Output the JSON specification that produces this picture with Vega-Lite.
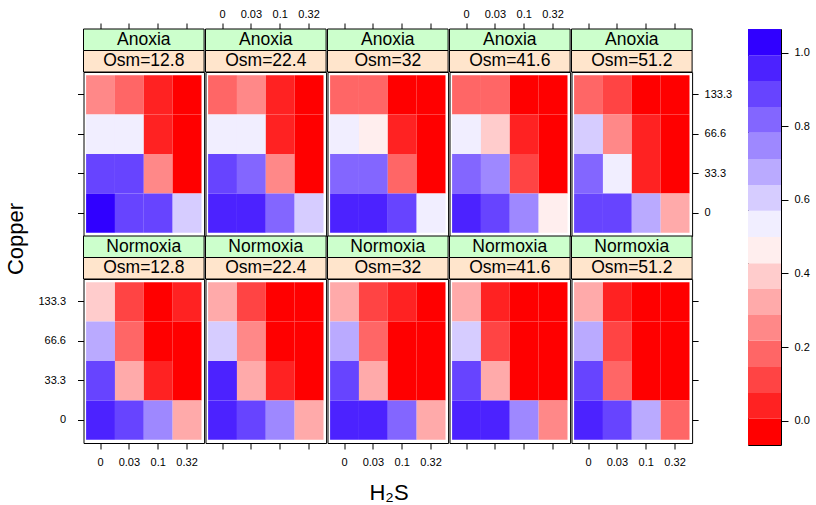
{
  "$schema": "https://vega.github.io/schema/vega-lite/v6.json",
  "background": "white",
  "padding": {"left": 5, "top": 8, "right": 5, "bottom": 0},
  "config": {
    "font": "Liberation Sans",
    "view": {"stroke": null},
    "axis": {"domain": false, "grid": false, "tickColor": "black", "tickWidth": 1, "tickSize": 6, "labelColor": "black", "labelFont": "Liberation Sans", "labelFontSize": 11, "labelAngle": 0, "labelOverlap": false},
    "axisLeft": {"labelPadding": 12},
    "axisRight": {"labelPadding": 6},
    "axisTop": {"labelPadding": 4},
    "axisBottom": {"labelPadding": 7},
    "text": {"font": "Liberation Sans", "color": "black"}
  },
  "datasets": {
    "cells": [
      {"oxygen":"Anoxia","osm":"12.8","copper":"133.3","h2s":"0","value":0.25},
      {"oxygen":"Anoxia","osm":"12.8","copper":"133.3","h2s":"0.03","value":0.18},
      {"oxygen":"Anoxia","osm":"12.8","copper":"133.3","h2s":"0.1","value":0.04},
      {"oxygen":"Anoxia","osm":"12.8","copper":"133.3","h2s":"0.32","value":0},
      {"oxygen":"Anoxia","osm":"12.8","copper":"66.6","h2s":"0","value":0.54},
      {"oxygen":"Anoxia","osm":"12.8","copper":"66.6","h2s":"0.03","value":0.54},
      {"oxygen":"Anoxia","osm":"12.8","copper":"66.6","h2s":"0.1","value":0.04},
      {"oxygen":"Anoxia","osm":"12.8","copper":"66.6","h2s":"0.32","value":0},
      {"oxygen":"Anoxia","osm":"12.8","copper":"33.3","h2s":"0","value":0.89},
      {"oxygen":"Anoxia","osm":"12.8","copper":"33.3","h2s":"0.03","value":0.89},
      {"oxygen":"Anoxia","osm":"12.8","copper":"33.3","h2s":"0.1","value":0.25},
      {"oxygen":"Anoxia","osm":"12.8","copper":"33.3","h2s":"0.32","value":0},
      {"oxygen":"Anoxia","osm":"12.8","copper":"0","h2s":"0","value":1.0},
      {"oxygen":"Anoxia","osm":"12.8","copper":"0","h2s":"0.03","value":0.89},
      {"oxygen":"Anoxia","osm":"12.8","copper":"0","h2s":"0.1","value":0.89},
      {"oxygen":"Anoxia","osm":"12.8","copper":"0","h2s":"0.32","value":0.61},
      {"oxygen":"Anoxia","osm":"22.4","copper":"133.3","h2s":"0","value":0.18},
      {"oxygen":"Anoxia","osm":"22.4","copper":"133.3","h2s":"0.03","value":0.25},
      {"oxygen":"Anoxia","osm":"22.4","copper":"133.3","h2s":"0.1","value":0.04},
      {"oxygen":"Anoxia","osm":"22.4","copper":"133.3","h2s":"0.32","value":0},
      {"oxygen":"Anoxia","osm":"22.4","copper":"66.6","h2s":"0","value":0.54},
      {"oxygen":"Anoxia","osm":"22.4","copper":"66.6","h2s":"0.03","value":0.54},
      {"oxygen":"Anoxia","osm":"22.4","copper":"66.6","h2s":"0.1","value":0.04},
      {"oxygen":"Anoxia","osm":"22.4","copper":"66.6","h2s":"0.32","value":0},
      {"oxygen":"Anoxia","osm":"22.4","copper":"33.3","h2s":"0","value":0.89},
      {"oxygen":"Anoxia","osm":"22.4","copper":"33.3","h2s":"0.03","value":0.82},
      {"oxygen":"Anoxia","osm":"22.4","copper":"33.3","h2s":"0.1","value":0.25},
      {"oxygen":"Anoxia","osm":"22.4","copper":"33.3","h2s":"0.32","value":0},
      {"oxygen":"Anoxia","osm":"22.4","copper":"0","h2s":"0","value":0.96},
      {"oxygen":"Anoxia","osm":"22.4","copper":"0","h2s":"0.03","value":0.96},
      {"oxygen":"Anoxia","osm":"22.4","copper":"0","h2s":"0.1","value":0.82},
      {"oxygen":"Anoxia","osm":"22.4","copper":"0","h2s":"0.32","value":0.61},
      {"oxygen":"Anoxia","osm":"32","copper":"133.3","h2s":"0","value":0.18},
      {"oxygen":"Anoxia","osm":"32","copper":"133.3","h2s":"0.03","value":0.18},
      {"oxygen":"Anoxia","osm":"32","copper":"133.3","h2s":"0.1","value":0},
      {"oxygen":"Anoxia","osm":"32","copper":"133.3","h2s":"0.32","value":0},
      {"oxygen":"Anoxia","osm":"32","copper":"66.6","h2s":"0","value":0.54},
      {"oxygen":"Anoxia","osm":"32","copper":"66.6","h2s":"0.03","value":0.46},
      {"oxygen":"Anoxia","osm":"32","copper":"66.6","h2s":"0.1","value":0.04},
      {"oxygen":"Anoxia","osm":"32","copper":"66.6","h2s":"0.32","value":0},
      {"oxygen":"Anoxia","osm":"32","copper":"33.3","h2s":"0","value":0.82},
      {"oxygen":"Anoxia","osm":"32","copper":"33.3","h2s":"0.03","value":0.82},
      {"oxygen":"Anoxia","osm":"32","copper":"33.3","h2s":"0.1","value":0.18},
      {"oxygen":"Anoxia","osm":"32","copper":"33.3","h2s":"0.32","value":0},
      {"oxygen":"Anoxia","osm":"32","copper":"0","h2s":"0","value":0.96},
      {"oxygen":"Anoxia","osm":"32","copper":"0","h2s":"0.03","value":0.96},
      {"oxygen":"Anoxia","osm":"32","copper":"0","h2s":"0.1","value":0.89},
      {"oxygen":"Anoxia","osm":"32","copper":"0","h2s":"0.32","value":0.54},
      {"oxygen":"Anoxia","osm":"41.6","copper":"133.3","h2s":"0","value":0.18},
      {"oxygen":"Anoxia","osm":"41.6","copper":"133.3","h2s":"0.03","value":0.18},
      {"oxygen":"Anoxia","osm":"41.6","copper":"133.3","h2s":"0.1","value":0},
      {"oxygen":"Anoxia","osm":"41.6","copper":"133.3","h2s":"0.32","value":0},
      {"oxygen":"Anoxia","osm":"41.6","copper":"66.6","h2s":"0","value":0.54},
      {"oxygen":"Anoxia","osm":"41.6","copper":"66.6","h2s":"0.03","value":0.39},
      {"oxygen":"Anoxia","osm":"41.6","copper":"66.6","h2s":"0.1","value":0.04},
      {"oxygen":"Anoxia","osm":"41.6","copper":"66.6","h2s":"0.32","value":0},
      {"oxygen":"Anoxia","osm":"41.6","copper":"33.3","h2s":"0","value":0.82},
      {"oxygen":"Anoxia","osm":"41.6","copper":"33.3","h2s":"0.03","value":0.75},
      {"oxygen":"Anoxia","osm":"41.6","copper":"33.3","h2s":"0.1","value":0.11},
      {"oxygen":"Anoxia","osm":"41.6","copper":"33.3","h2s":"0.32","value":0},
      {"oxygen":"Anoxia","osm":"41.6","copper":"0","h2s":"0","value":0.96},
      {"oxygen":"Anoxia","osm":"41.6","copper":"0","h2s":"0.03","value":0.89},
      {"oxygen":"Anoxia","osm":"41.6","copper":"0","h2s":"0.1","value":0.75},
      {"oxygen":"Anoxia","osm":"41.6","copper":"0","h2s":"0.32","value":0.46},
      {"oxygen":"Anoxia","osm":"51.2","copper":"133.3","h2s":"0","value":0.18},
      {"oxygen":"Anoxia","osm":"51.2","copper":"133.3","h2s":"0.03","value":0.11},
      {"oxygen":"Anoxia","osm":"51.2","copper":"133.3","h2s":"0.1","value":0},
      {"oxygen":"Anoxia","osm":"51.2","copper":"133.3","h2s":"0.32","value":0},
      {"oxygen":"Anoxia","osm":"51.2","copper":"66.6","h2s":"0","value":0.61},
      {"oxygen":"Anoxia","osm":"51.2","copper":"66.6","h2s":"0.03","value":0.25},
      {"oxygen":"Anoxia","osm":"51.2","copper":"66.6","h2s":"0.1","value":0.04},
      {"oxygen":"Anoxia","osm":"51.2","copper":"66.6","h2s":"0.32","value":0},
      {"oxygen":"Anoxia","osm":"51.2","copper":"33.3","h2s":"0","value":0.82},
      {"oxygen":"Anoxia","osm":"51.2","copper":"33.3","h2s":"0.03","value":0.54},
      {"oxygen":"Anoxia","osm":"51.2","copper":"33.3","h2s":"0.1","value":0.04},
      {"oxygen":"Anoxia","osm":"51.2","copper":"33.3","h2s":"0.32","value":0},
      {"oxygen":"Anoxia","osm":"51.2","copper":"0","h2s":"0","value":0.89},
      {"oxygen":"Anoxia","osm":"51.2","copper":"0","h2s":"0.03","value":0.89},
      {"oxygen":"Anoxia","osm":"51.2","copper":"0","h2s":"0.1","value":0.68},
      {"oxygen":"Anoxia","osm":"51.2","copper":"0","h2s":"0.32","value":0.32},
      {"oxygen":"Normoxia","osm":"12.8","copper":"133.3","h2s":"0","value":0.39},
      {"oxygen":"Normoxia","osm":"12.8","copper":"133.3","h2s":"0.03","value":0.11},
      {"oxygen":"Normoxia","osm":"12.8","copper":"133.3","h2s":"0.1","value":0},
      {"oxygen":"Normoxia","osm":"12.8","copper":"133.3","h2s":"0.32","value":0.04},
      {"oxygen":"Normoxia","osm":"12.8","copper":"66.6","h2s":"0","value":0.68},
      {"oxygen":"Normoxia","osm":"12.8","copper":"66.6","h2s":"0.03","value":0.18},
      {"oxygen":"Normoxia","osm":"12.8","copper":"66.6","h2s":"0.1","value":0},
      {"oxygen":"Normoxia","osm":"12.8","copper":"66.6","h2s":"0.32","value":0},
      {"oxygen":"Normoxia","osm":"12.8","copper":"33.3","h2s":"0","value":0.89},
      {"oxygen":"Normoxia","osm":"12.8","copper":"33.3","h2s":"0.03","value":0.32},
      {"oxygen":"Normoxia","osm":"12.8","copper":"33.3","h2s":"0.1","value":0.04},
      {"oxygen":"Normoxia","osm":"12.8","copper":"33.3","h2s":"0.32","value":0},
      {"oxygen":"Normoxia","osm":"12.8","copper":"0","h2s":"0","value":0.96},
      {"oxygen":"Normoxia","osm":"12.8","copper":"0","h2s":"0.03","value":0.89},
      {"oxygen":"Normoxia","osm":"12.8","copper":"0","h2s":"0.1","value":0.75},
      {"oxygen":"Normoxia","osm":"12.8","copper":"0","h2s":"0.32","value":0.32},
      {"oxygen":"Normoxia","osm":"22.4","copper":"133.3","h2s":"0","value":0.32},
      {"oxygen":"Normoxia","osm":"22.4","copper":"133.3","h2s":"0.03","value":0.11},
      {"oxygen":"Normoxia","osm":"22.4","copper":"133.3","h2s":"0.1","value":0},
      {"oxygen":"Normoxia","osm":"22.4","copper":"133.3","h2s":"0.32","value":0},
      {"oxygen":"Normoxia","osm":"22.4","copper":"66.6","h2s":"0","value":0.61},
      {"oxygen":"Normoxia","osm":"22.4","copper":"66.6","h2s":"0.03","value":0.25},
      {"oxygen":"Normoxia","osm":"22.4","copper":"66.6","h2s":"0.1","value":0},
      {"oxygen":"Normoxia","osm":"22.4","copper":"66.6","h2s":"0.32","value":0},
      {"oxygen":"Normoxia","osm":"22.4","copper":"33.3","h2s":"0","value":0.96},
      {"oxygen":"Normoxia","osm":"22.4","copper":"33.3","h2s":"0.03","value":0.32},
      {"oxygen":"Normoxia","osm":"22.4","copper":"33.3","h2s":"0.1","value":0.04},
      {"oxygen":"Normoxia","osm":"22.4","copper":"33.3","h2s":"0.32","value":0},
      {"oxygen":"Normoxia","osm":"22.4","copper":"0","h2s":"0","value":0.96},
      {"oxygen":"Normoxia","osm":"22.4","copper":"0","h2s":"0.03","value":0.89},
      {"oxygen":"Normoxia","osm":"22.4","copper":"0","h2s":"0.1","value":0.75},
      {"oxygen":"Normoxia","osm":"22.4","copper":"0","h2s":"0.32","value":0.32},
      {"oxygen":"Normoxia","osm":"32","copper":"133.3","h2s":"0","value":0.32},
      {"oxygen":"Normoxia","osm":"32","copper":"133.3","h2s":"0.03","value":0.11},
      {"oxygen":"Normoxia","osm":"32","copper":"133.3","h2s":"0.1","value":0.04},
      {"oxygen":"Normoxia","osm":"32","copper":"133.3","h2s":"0.32","value":0},
      {"oxygen":"Normoxia","osm":"32","copper":"66.6","h2s":"0","value":0.68},
      {"oxygen":"Normoxia","osm":"32","copper":"66.6","h2s":"0.03","value":0.18},
      {"oxygen":"Normoxia","osm":"32","copper":"66.6","h2s":"0.1","value":0},
      {"oxygen":"Normoxia","osm":"32","copper":"66.6","h2s":"0.32","value":0},
      {"oxygen":"Normoxia","osm":"32","copper":"33.3","h2s":"0","value":0.89},
      {"oxygen":"Normoxia","osm":"32","copper":"33.3","h2s":"0.03","value":0.32},
      {"oxygen":"Normoxia","osm":"32","copper":"33.3","h2s":"0.1","value":0},
      {"oxygen":"Normoxia","osm":"32","copper":"33.3","h2s":"0.32","value":0},
      {"oxygen":"Normoxia","osm":"32","copper":"0","h2s":"0","value":0.96},
      {"oxygen":"Normoxia","osm":"32","copper":"0","h2s":"0.03","value":0.96},
      {"oxygen":"Normoxia","osm":"32","copper":"0","h2s":"0.1","value":0.82},
      {"oxygen":"Normoxia","osm":"32","copper":"0","h2s":"0.32","value":0.32},
      {"oxygen":"Normoxia","osm":"41.6","copper":"133.3","h2s":"0","value":0.32},
      {"oxygen":"Normoxia","osm":"41.6","copper":"133.3","h2s":"0.03","value":0.04},
      {"oxygen":"Normoxia","osm":"41.6","copper":"133.3","h2s":"0.1","value":0},
      {"oxygen":"Normoxia","osm":"41.6","copper":"133.3","h2s":"0.32","value":0},
      {"oxygen":"Normoxia","osm":"41.6","copper":"66.6","h2s":"0","value":0.61},
      {"oxygen":"Normoxia","osm":"41.6","copper":"66.6","h2s":"0.03","value":0.11},
      {"oxygen":"Normoxia","osm":"41.6","copper":"66.6","h2s":"0.1","value":0},
      {"oxygen":"Normoxia","osm":"41.6","copper":"66.6","h2s":"0.32","value":0},
      {"oxygen":"Normoxia","osm":"41.6","copper":"33.3","h2s":"0","value":0.89},
      {"oxygen":"Normoxia","osm":"41.6","copper":"33.3","h2s":"0.03","value":0.32},
      {"oxygen":"Normoxia","osm":"41.6","copper":"33.3","h2s":"0.1","value":0},
      {"oxygen":"Normoxia","osm":"41.6","copper":"33.3","h2s":"0.32","value":0},
      {"oxygen":"Normoxia","osm":"41.6","copper":"0","h2s":"0","value":0.96},
      {"oxygen":"Normoxia","osm":"41.6","copper":"0","h2s":"0.03","value":0.96},
      {"oxygen":"Normoxia","osm":"41.6","copper":"0","h2s":"0.1","value":0.75},
      {"oxygen":"Normoxia","osm":"41.6","copper":"0","h2s":"0.32","value":0.25},
      {"oxygen":"Normoxia","osm":"51.2","copper":"133.3","h2s":"0","value":0.32},
      {"oxygen":"Normoxia","osm":"51.2","copper":"133.3","h2s":"0.03","value":0.04},
      {"oxygen":"Normoxia","osm":"51.2","copper":"133.3","h2s":"0.1","value":0},
      {"oxygen":"Normoxia","osm":"51.2","copper":"133.3","h2s":"0.32","value":0},
      {"oxygen":"Normoxia","osm":"51.2","copper":"66.6","h2s":"0","value":0.68},
      {"oxygen":"Normoxia","osm":"51.2","copper":"66.6","h2s":"0.03","value":0.11},
      {"oxygen":"Normoxia","osm":"51.2","copper":"66.6","h2s":"0.1","value":0},
      {"oxygen":"Normoxia","osm":"51.2","copper":"66.6","h2s":"0.32","value":0},
      {"oxygen":"Normoxia","osm":"51.2","copper":"33.3","h2s":"0","value":0.89},
      {"oxygen":"Normoxia","osm":"51.2","copper":"33.3","h2s":"0.03","value":0.18},
      {"oxygen":"Normoxia","osm":"51.2","copper":"33.3","h2s":"0.1","value":0},
      {"oxygen":"Normoxia","osm":"51.2","copper":"33.3","h2s":"0.32","value":0},
      {"oxygen":"Normoxia","osm":"51.2","copper":"0","h2s":"0","value":0.96},
      {"oxygen":"Normoxia","osm":"51.2","copper":"0","h2s":"0.03","value":0.89},
      {"oxygen":"Normoxia","osm":"51.2","copper":"0","h2s":"0.1","value":0.68},
      {"oxygen":"Normoxia","osm":"51.2","copper":"0","h2s":"0.32","value":0.18}
    ],
    "bands": [
      {"lo":-0.066,"hi":0.005},{"lo":0.005,"hi":0.075},{"lo":0.075,"hi":0.146},{"lo":0.146,"hi":0.217},
      {"lo":0.217,"hi":0.287},{"lo":0.287,"hi":0.358},{"lo":0.358,"hi":0.428},{"lo":0.428,"hi":0.499},
      {"lo":0.499,"hi":0.57},{"lo":0.57,"hi":0.64},{"lo":0.64,"hi":0.711},{"lo":0.711,"hi":0.782},
      {"lo":0.782,"hi":0.852},{"lo":0.852,"hi":0.923},{"lo":0.923,"hi":0.993},{"lo":0.993,"hi":1.064}
    ],
    "h2slevels": [{"h2s":"0"},{"h2s":"0.03"},{"h2s":"0.1"},{"h2s":"0.32"}]
  },
  "spacing": 10,
  "vconcat": [
    {
      "spacing": 9.5,
      "hconcat": [
        {
          "width": 22, "height": 420,
          "data": {"values": [{"t": "Copper"}]},
          "mark": {"type": "text", "angle": 270, "fontSize": 22},
          "encoding": {"text": {"field": "t"}}
        },
        {
          "spacing": 14.5,
          "hconcat": [
            {
              "bounds": "flush",
              "columns": 5,
              "spacing": {"row": 0, "column": 1},
              "concat": [
                {"width": 120.6, "height": 43, "layer": [
                  {"data": {"values": [{"strip": "ox", "label": "Anoxia"}, {"strip": "osm", "label": "Osm=12.8"}]}, "mark": {"type": "rect", "stroke": "black", "strokeWidth": 1}, "encoding": {"y": {"field": "strip", "type": "nominal", "scale": {"domain": ["ox", "osm"], "paddingInner": 0, "paddingOuter": 0}, "axis": null}, "fill": {"field": "strip", "type": "nominal", "scale": {"domain": ["ox", "osm"], "range": ["#CCFFCC", "#FFE5CC"]}, "legend": null}}},
                  {"data": {"values": [{"strip": "ox", "label": "Anoxia"}, {"strip": "osm", "label": "Osm=12.8"}]}, "mark": {"type": "text", "fontSize": 17.5}, "encoding": {"y": {"field": "strip", "type": "nominal", "axis": null}, "text": {"field": "label"}}},
                  {"data": {"name": "h2slevels"}, "mark": {"type": "tick", "opacity": 0}, "encoding": {"x": {"field": "h2s", "type": "ordinal", "sort": ["0", "0.03", "0.1", "0.32"], "scale": {"paddingInner": 0, "paddingOuter": 0.09}, "axis": {"orient": "top", "labels": false, "title": null}}}}
                ]},
                {"width": 120.6, "height": 43, "layer": [
                  {"data": {"values": [{"strip": "ox", "label": "Anoxia"}, {"strip": "osm", "label": "Osm=22.4"}]}, "mark": {"type": "rect", "stroke": "black", "strokeWidth": 1}, "encoding": {"y": {"field": "strip", "type": "nominal", "scale": {"domain": ["ox", "osm"], "paddingInner": 0, "paddingOuter": 0}, "axis": null}, "fill": {"field": "strip", "type": "nominal", "scale": {"domain": ["ox", "osm"], "range": ["#CCFFCC", "#FFE5CC"]}, "legend": null}}},
                  {"data": {"values": [{"strip": "ox", "label": "Anoxia"}, {"strip": "osm", "label": "Osm=22.4"}]}, "mark": {"type": "text", "fontSize": 17.5}, "encoding": {"y": {"field": "strip", "type": "nominal", "axis": null}, "text": {"field": "label"}}},
                  {"data": {"name": "h2slevels"}, "mark": {"type": "tick", "opacity": 0}, "encoding": {"x": {"field": "h2s", "type": "ordinal", "sort": ["0", "0.03", "0.1", "0.32"], "scale": {"paddingInner": 0, "paddingOuter": 0.09}, "axis": {"orient": "top", "labels": true, "title": null}}}}
                ]},
                {"width": 120.6, "height": 43, "layer": [
                  {"data": {"values": [{"strip": "ox", "label": "Anoxia"}, {"strip": "osm", "label": "Osm=32"}]}, "mark": {"type": "rect", "stroke": "black", "strokeWidth": 1}, "encoding": {"y": {"field": "strip", "type": "nominal", "scale": {"domain": ["ox", "osm"], "paddingInner": 0, "paddingOuter": 0}, "axis": null}, "fill": {"field": "strip", "type": "nominal", "scale": {"domain": ["ox", "osm"], "range": ["#CCFFCC", "#FFE5CC"]}, "legend": null}}},
                  {"data": {"values": [{"strip": "ox", "label": "Anoxia"}, {"strip": "osm", "label": "Osm=32"}]}, "mark": {"type": "text", "fontSize": 17.5}, "encoding": {"y": {"field": "strip", "type": "nominal", "axis": null}, "text": {"field": "label"}}},
                  {"data": {"name": "h2slevels"}, "mark": {"type": "tick", "opacity": 0}, "encoding": {"x": {"field": "h2s", "type": "ordinal", "sort": ["0", "0.03", "0.1", "0.32"], "scale": {"paddingInner": 0, "paddingOuter": 0.09}, "axis": {"orient": "top", "labels": false, "title": null}}}}
                ]},
                {"width": 120.6, "height": 43, "layer": [
                  {"data": {"values": [{"strip": "ox", "label": "Anoxia"}, {"strip": "osm", "label": "Osm=41.6"}]}, "mark": {"type": "rect", "stroke": "black", "strokeWidth": 1}, "encoding": {"y": {"field": "strip", "type": "nominal", "scale": {"domain": ["ox", "osm"], "paddingInner": 0, "paddingOuter": 0}, "axis": null}, "fill": {"field": "strip", "type": "nominal", "scale": {"domain": ["ox", "osm"], "range": ["#CCFFCC", "#FFE5CC"]}, "legend": null}}},
                  {"data": {"values": [{"strip": "ox", "label": "Anoxia"}, {"strip": "osm", "label": "Osm=41.6"}]}, "mark": {"type": "text", "fontSize": 17.5}, "encoding": {"y": {"field": "strip", "type": "nominal", "axis": null}, "text": {"field": "label"}}},
                  {"data": {"name": "h2slevels"}, "mark": {"type": "tick", "opacity": 0}, "encoding": {"x": {"field": "h2s", "type": "ordinal", "sort": ["0", "0.03", "0.1", "0.32"], "scale": {"paddingInner": 0, "paddingOuter": 0.09}, "axis": {"orient": "top", "labels": true, "title": null}}}}
                ]},
                {"width": 120.6, "height": 43, "layer": [
                  {"data": {"values": [{"strip": "ox", "label": "Anoxia"}, {"strip": "osm", "label": "Osm=51.2"}]}, "mark": {"type": "rect", "stroke": "black", "strokeWidth": 1}, "encoding": {"y": {"field": "strip", "type": "nominal", "scale": {"domain": ["ox", "osm"], "paddingInner": 0, "paddingOuter": 0}, "axis": null}, "fill": {"field": "strip", "type": "nominal", "scale": {"domain": ["ox", "osm"], "range": ["#CCFFCC", "#FFE5CC"]}, "legend": null}}},
                  {"data": {"values": [{"strip": "ox", "label": "Anoxia"}, {"strip": "osm", "label": "Osm=51.2"}]}, "mark": {"type": "text", "fontSize": 17.5}, "encoding": {"y": {"field": "strip", "type": "nominal", "axis": null}, "text": {"field": "label"}}},
                  {"data": {"name": "h2slevels"}, "mark": {"type": "tick", "opacity": 0}, "encoding": {"x": {"field": "h2s", "type": "ordinal", "sort": ["0", "0.03", "0.1", "0.32"], "scale": {"paddingInner": 0, "paddingOuter": 0.09}, "axis": {"orient": "top", "labels": false, "title": null}}}}
                ]},

                {"width": 120.6, "height": 164, "view": {"stroke": "black", "strokeWidth": 1},
                 "data": {"name": "cells"}, "transform": [{"filter": "datum.oxygen === 'Anoxia' && datum.osm === '12.8'"}],
                 "mark": "rect",
                 "encoding": {
                   "x": {"field": "h2s", "type": "ordinal", "sort": ["0", "0.03", "0.1", "0.32"], "scale": {"paddingInner": 0, "paddingOuter": 0.09}, "axis": null},
                   "y": {"field": "copper", "type": "ordinal", "sort": ["133.3", "66.6", "33.3", "0"], "scale": {"paddingInner": 0, "paddingOuter": 0.08}, "axis": {"orient": "left", "labels": false, "title": null}},
                   "color": {"field": "value", "type": "quantitative", "scale": {"type": "threshold", "domain": [0.005, 0.075, 0.146, 0.217, 0.287, 0.358, 0.428, 0.499, 0.57, 0.64, 0.711, 0.782, 0.852, 0.923, 0.993], "range": ["#FF0000", "#FF2222", "#FF4444", "#FF6666", "#FF8888", "#FFAAAA", "#FFCCCC", "#FFEEEE", "#F1EEFF", "#D6CCFF", "#BAAAFF", "#9E88FF", "#8366FF", "#6744FF", "#4C22FF", "#3000FF"]}, "legend": null}
                 }},
                {"width": 120.6, "height": 164, "view": {"stroke": "black", "strokeWidth": 1},
                 "data": {"name": "cells"}, "transform": [{"filter": "datum.oxygen === 'Anoxia' && datum.osm === '22.4'"}],
                 "mark": "rect",
                 "encoding": {
                   "x": {"field": "h2s", "type": "ordinal", "sort": ["0", "0.03", "0.1", "0.32"], "scale": {"paddingInner": 0, "paddingOuter": 0.09}, "axis": null},
                   "y": {"field": "copper", "type": "ordinal", "sort": ["133.3", "66.6", "33.3", "0"], "scale": {"paddingInner": 0, "paddingOuter": 0.08}, "axis": null},
                   "color": {"field": "value", "type": "quantitative", "scale": {"type": "threshold", "domain": [0.005, 0.075, 0.146, 0.217, 0.287, 0.358, 0.428, 0.499, 0.57, 0.64, 0.711, 0.782, 0.852, 0.923, 0.993], "range": ["#FF0000", "#FF2222", "#FF4444", "#FF6666", "#FF8888", "#FFAAAA", "#FFCCCC", "#FFEEEE", "#F1EEFF", "#D6CCFF", "#BAAAFF", "#9E88FF", "#8366FF", "#6744FF", "#4C22FF", "#3000FF"]}, "legend": null}
                 }},
                {"width": 120.6, "height": 164, "view": {"stroke": "black", "strokeWidth": 1},
                 "data": {"name": "cells"}, "transform": [{"filter": "datum.oxygen === 'Anoxia' && datum.osm === '32'"}],
                 "mark": "rect",
                 "encoding": {
                   "x": {"field": "h2s", "type": "ordinal", "sort": ["0", "0.03", "0.1", "0.32"], "scale": {"paddingInner": 0, "paddingOuter": 0.09}, "axis": null},
                   "y": {"field": "copper", "type": "ordinal", "sort": ["133.3", "66.6", "33.3", "0"], "scale": {"paddingInner": 0, "paddingOuter": 0.08}, "axis": null},
                   "color": {"field": "value", "type": "quantitative", "scale": {"type": "threshold", "domain": [0.005, 0.075, 0.146, 0.217, 0.287, 0.358, 0.428, 0.499, 0.57, 0.64, 0.711, 0.782, 0.852, 0.923, 0.993], "range": ["#FF0000", "#FF2222", "#FF4444", "#FF6666", "#FF8888", "#FFAAAA", "#FFCCCC", "#FFEEEE", "#F1EEFF", "#D6CCFF", "#BAAAFF", "#9E88FF", "#8366FF", "#6744FF", "#4C22FF", "#3000FF"]}, "legend": null}
                 }},
                {"width": 120.6, "height": 164, "view": {"stroke": "black", "strokeWidth": 1},
                 "data": {"name": "cells"}, "transform": [{"filter": "datum.oxygen === 'Anoxia' && datum.osm === '41.6'"}],
                 "mark": "rect",
                 "encoding": {
                   "x": {"field": "h2s", "type": "ordinal", "sort": ["0", "0.03", "0.1", "0.32"], "scale": {"paddingInner": 0, "paddingOuter": 0.09}, "axis": null},
                   "y": {"field": "copper", "type": "ordinal", "sort": ["133.3", "66.6", "33.3", "0"], "scale": {"paddingInner": 0, "paddingOuter": 0.08}, "axis": null},
                   "color": {"field": "value", "type": "quantitative", "scale": {"type": "threshold", "domain": [0.005, 0.075, 0.146, 0.217, 0.287, 0.358, 0.428, 0.499, 0.57, 0.64, 0.711, 0.782, 0.852, 0.923, 0.993], "range": ["#FF0000", "#FF2222", "#FF4444", "#FF6666", "#FF8888", "#FFAAAA", "#FFCCCC", "#FFEEEE", "#F1EEFF", "#D6CCFF", "#BAAAFF", "#9E88FF", "#8366FF", "#6744FF", "#4C22FF", "#3000FF"]}, "legend": null}
                 }},
                {"width": 120.6, "height": 164, "view": {"stroke": "black", "strokeWidth": 1},
                 "data": {"name": "cells"}, "transform": [{"filter": "datum.oxygen === 'Anoxia' && datum.osm === '51.2'"}],
                 "mark": "rect",
                 "encoding": {
                   "x": {"field": "h2s", "type": "ordinal", "sort": ["0", "0.03", "0.1", "0.32"], "scale": {"paddingInner": 0, "paddingOuter": 0.09}, "axis": null},
                   "y": {"field": "copper", "type": "ordinal", "sort": ["133.3", "66.6", "33.3", "0"], "scale": {"paddingInner": 0, "paddingOuter": 0.08}, "axis": {"orient": "right", "labels": true, "title": null}},
                   "color": {"field": "value", "type": "quantitative", "scale": {"type": "threshold", "domain": [0.005, 0.075, 0.146, 0.217, 0.287, 0.358, 0.428, 0.499, 0.57, 0.64, 0.711, 0.782, 0.852, 0.923, 0.993], "range": ["#FF0000", "#FF2222", "#FF4444", "#FF6666", "#FF8888", "#FFAAAA", "#FFCCCC", "#FFEEEE", "#F1EEFF", "#D6CCFF", "#BAAAFF", "#9E88FF", "#8366FF", "#6744FF", "#4C22FF", "#3000FF"]}, "legend": null}
                 }},

                {"width": 120.6, "height": 43, "layer": [
                  {"data": {"values": [{"strip": "ox", "label": "Normoxia"}, {"strip": "osm", "label": "Osm=12.8"}]}, "mark": {"type": "rect", "stroke": "black", "strokeWidth": 1}, "encoding": {"y": {"field": "strip", "type": "nominal", "scale": {"domain": ["ox", "osm"], "paddingInner": 0, "paddingOuter": 0}, "axis": null}, "fill": {"field": "strip", "type": "nominal", "scale": {"domain": ["ox", "osm"], "range": ["#CCFFCC", "#FFE5CC"]}, "legend": null}}},
                  {"data": {"values": [{"strip": "ox", "label": "Normoxia"}, {"strip": "osm", "label": "Osm=12.8"}]}, "mark": {"type": "text", "fontSize": 17.5}, "encoding": {"y": {"field": "strip", "type": "nominal", "axis": null}, "text": {"field": "label"}}}
                ]},
                {"width": 120.6, "height": 43, "layer": [
                  {"data": {"values": [{"strip": "ox", "label": "Normoxia"}, {"strip": "osm", "label": "Osm=22.4"}]}, "mark": {"type": "rect", "stroke": "black", "strokeWidth": 1}, "encoding": {"y": {"field": "strip", "type": "nominal", "scale": {"domain": ["ox", "osm"], "paddingInner": 0, "paddingOuter": 0}, "axis": null}, "fill": {"field": "strip", "type": "nominal", "scale": {"domain": ["ox", "osm"], "range": ["#CCFFCC", "#FFE5CC"]}, "legend": null}}},
                  {"data": {"values": [{"strip": "ox", "label": "Normoxia"}, {"strip": "osm", "label": "Osm=22.4"}]}, "mark": {"type": "text", "fontSize": 17.5}, "encoding": {"y": {"field": "strip", "type": "nominal", "axis": null}, "text": {"field": "label"}}}
                ]},
                {"width": 120.6, "height": 43, "layer": [
                  {"data": {"values": [{"strip": "ox", "label": "Normoxia"}, {"strip": "osm", "label": "Osm=32"}]}, "mark": {"type": "rect", "stroke": "black", "strokeWidth": 1}, "encoding": {"y": {"field": "strip", "type": "nominal", "scale": {"domain": ["ox", "osm"], "paddingInner": 0, "paddingOuter": 0}, "axis": null}, "fill": {"field": "strip", "type": "nominal", "scale": {"domain": ["ox", "osm"], "range": ["#CCFFCC", "#FFE5CC"]}, "legend": null}}},
                  {"data": {"values": [{"strip": "ox", "label": "Normoxia"}, {"strip": "osm", "label": "Osm=32"}]}, "mark": {"type": "text", "fontSize": 17.5}, "encoding": {"y": {"field": "strip", "type": "nominal", "axis": null}, "text": {"field": "label"}}}
                ]},
                {"width": 120.6, "height": 43, "layer": [
                  {"data": {"values": [{"strip": "ox", "label": "Normoxia"}, {"strip": "osm", "label": "Osm=41.6"}]}, "mark": {"type": "rect", "stroke": "black", "strokeWidth": 1}, "encoding": {"y": {"field": "strip", "type": "nominal", "scale": {"domain": ["ox", "osm"], "paddingInner": 0, "paddingOuter": 0}, "axis": null}, "fill": {"field": "strip", "type": "nominal", "scale": {"domain": ["ox", "osm"], "range": ["#CCFFCC", "#FFE5CC"]}, "legend": null}}},
                  {"data": {"values": [{"strip": "ox", "label": "Normoxia"}, {"strip": "osm", "label": "Osm=41.6"}]}, "mark": {"type": "text", "fontSize": 17.5}, "encoding": {"y": {"field": "strip", "type": "nominal", "axis": null}, "text": {"field": "label"}}}
                ]},
                {"width": 120.6, "height": 43, "layer": [
                  {"data": {"values": [{"strip": "ox", "label": "Normoxia"}, {"strip": "osm", "label": "Osm=51.2"}]}, "mark": {"type": "rect", "stroke": "black", "strokeWidth": 1}, "encoding": {"y": {"field": "strip", "type": "nominal", "scale": {"domain": ["ox", "osm"], "paddingInner": 0, "paddingOuter": 0}, "axis": null}, "fill": {"field": "strip", "type": "nominal", "scale": {"domain": ["ox", "osm"], "range": ["#CCFFCC", "#FFE5CC"]}, "legend": null}}},
                  {"data": {"values": [{"strip": "ox", "label": "Normoxia"}, {"strip": "osm", "label": "Osm=51.2"}]}, "mark": {"type": "text", "fontSize": 17.5}, "encoding": {"y": {"field": "strip", "type": "nominal", "axis": null}, "text": {"field": "label"}}}
                ]},

                {"width": 120.6, "height": 164, "view": {"stroke": "black", "strokeWidth": 1},
                 "data": {"name": "cells"}, "transform": [{"filter": "datum.oxygen === 'Normoxia' && datum.osm === '12.8'"}],
                 "mark": "rect",
                 "encoding": {
                   "x": {"field": "h2s", "type": "ordinal", "sort": ["0", "0.03", "0.1", "0.32"], "scale": {"paddingInner": 0, "paddingOuter": 0.09}, "axis": {"orient": "bottom", "labels": true, "title": null}},
                   "y": {"field": "copper", "type": "ordinal", "sort": ["133.3", "66.6", "33.3", "0"], "scale": {"paddingInner": 0, "paddingOuter": 0.08}, "axis": {"orient": "left", "labels": true, "title": null}},
                   "color": {"field": "value", "type": "quantitative", "scale": {"type": "threshold", "domain": [0.005, 0.075, 0.146, 0.217, 0.287, 0.358, 0.428, 0.499, 0.57, 0.64, 0.711, 0.782, 0.852, 0.923, 0.993], "range": ["#FF0000", "#FF2222", "#FF4444", "#FF6666", "#FF8888", "#FFAAAA", "#FFCCCC", "#FFEEEE", "#F1EEFF", "#D6CCFF", "#BAAAFF", "#9E88FF", "#8366FF", "#6744FF", "#4C22FF", "#3000FF"]}, "legend": null}
                 }},
                {"width": 120.6, "height": 164, "view": {"stroke": "black", "strokeWidth": 1},
                 "data": {"name": "cells"}, "transform": [{"filter": "datum.oxygen === 'Normoxia' && datum.osm === '22.4'"}],
                 "mark": "rect",
                 "encoding": {
                   "x": {"field": "h2s", "type": "ordinal", "sort": ["0", "0.03", "0.1", "0.32"], "scale": {"paddingInner": 0, "paddingOuter": 0.09}, "axis": {"orient": "bottom", "labels": false, "title": null}},
                   "y": {"field": "copper", "type": "ordinal", "sort": ["133.3", "66.6", "33.3", "0"], "scale": {"paddingInner": 0, "paddingOuter": 0.08}, "axis": null},
                   "color": {"field": "value", "type": "quantitative", "scale": {"type": "threshold", "domain": [0.005, 0.075, 0.146, 0.217, 0.287, 0.358, 0.428, 0.499, 0.57, 0.64, 0.711, 0.782, 0.852, 0.923, 0.993], "range": ["#FF0000", "#FF2222", "#FF4444", "#FF6666", "#FF8888", "#FFAAAA", "#FFCCCC", "#FFEEEE", "#F1EEFF", "#D6CCFF", "#BAAAFF", "#9E88FF", "#8366FF", "#6744FF", "#4C22FF", "#3000FF"]}, "legend": null}
                 }},
                {"width": 120.6, "height": 164, "view": {"stroke": "black", "strokeWidth": 1},
                 "data": {"name": "cells"}, "transform": [{"filter": "datum.oxygen === 'Normoxia' && datum.osm === '32'"}],
                 "mark": "rect",
                 "encoding": {
                   "x": {"field": "h2s", "type": "ordinal", "sort": ["0", "0.03", "0.1", "0.32"], "scale": {"paddingInner": 0, "paddingOuter": 0.09}, "axis": {"orient": "bottom", "labels": true, "title": null}},
                   "y": {"field": "copper", "type": "ordinal", "sort": ["133.3", "66.6", "33.3", "0"], "scale": {"paddingInner": 0, "paddingOuter": 0.08}, "axis": null},
                   "color": {"field": "value", "type": "quantitative", "scale": {"type": "threshold", "domain": [0.005, 0.075, 0.146, 0.217, 0.287, 0.358, 0.428, 0.499, 0.57, 0.64, 0.711, 0.782, 0.852, 0.923, 0.993], "range": ["#FF0000", "#FF2222", "#FF4444", "#FF6666", "#FF8888", "#FFAAAA", "#FFCCCC", "#FFEEEE", "#F1EEFF", "#D6CCFF", "#BAAAFF", "#9E88FF", "#8366FF", "#6744FF", "#4C22FF", "#3000FF"]}, "legend": null}
                 }},
                {"width": 120.6, "height": 164, "view": {"stroke": "black", "strokeWidth": 1},
                 "data": {"name": "cells"}, "transform": [{"filter": "datum.oxygen === 'Normoxia' && datum.osm === '41.6'"}],
                 "mark": "rect",
                 "encoding": {
                   "x": {"field": "h2s", "type": "ordinal", "sort": ["0", "0.03", "0.1", "0.32"], "scale": {"paddingInner": 0, "paddingOuter": 0.09}, "axis": {"orient": "bottom", "labels": false, "title": null}},
                   "y": {"field": "copper", "type": "ordinal", "sort": ["133.3", "66.6", "33.3", "0"], "scale": {"paddingInner": 0, "paddingOuter": 0.08}, "axis": null},
                   "color": {"field": "value", "type": "quantitative", "scale": {"type": "threshold", "domain": [0.005, 0.075, 0.146, 0.217, 0.287, 0.358, 0.428, 0.499, 0.57, 0.64, 0.711, 0.782, 0.852, 0.923, 0.993], "range": ["#FF0000", "#FF2222", "#FF4444", "#FF6666", "#FF8888", "#FFAAAA", "#FFCCCC", "#FFEEEE", "#F1EEFF", "#D6CCFF", "#BAAAFF", "#9E88FF", "#8366FF", "#6744FF", "#4C22FF", "#3000FF"]}, "legend": null}
                 }},
                {"width": 120.6, "height": 164, "view": {"stroke": "black", "strokeWidth": 1},
                 "data": {"name": "cells"}, "transform": [{"filter": "datum.oxygen === 'Normoxia' && datum.osm === '51.2'"}],
                 "mark": "rect",
                 "encoding": {
                   "x": {"field": "h2s", "type": "ordinal", "sort": ["0", "0.03", "0.1", "0.32"], "scale": {"paddingInner": 0, "paddingOuter": 0.09}, "axis": {"orient": "bottom", "labels": true, "title": null}},
                   "y": {"field": "copper", "type": "ordinal", "sort": ["133.3", "66.6", "33.3", "0"], "scale": {"paddingInner": 0, "paddingOuter": 0.08}, "axis": {"orient": "right", "labels": false, "title": null}},
                   "color": {"field": "value", "type": "quantitative", "scale": {"type": "threshold", "domain": [0.005, 0.075, 0.146, 0.217, 0.287, 0.358, 0.428, 0.499, 0.57, 0.64, 0.711, 0.782, 0.852, 0.923, 0.993], "range": ["#FF0000", "#FF2222", "#FF4444", "#FF6666", "#FF8888", "#FFAAAA", "#FFCCCC", "#FFEEEE", "#F1EEFF", "#D6CCFF", "#BAAAFF", "#9E88FF", "#8366FF", "#6744FF", "#4C22FF", "#3000FF"]}, "legend": null}
                 }}
              ]
            },
            {
              "width": 33, "height": 416,
              "view": {"stroke": "black", "strokeWidth": 1},
              "data": {"name": "bands"}, "mark": "rect",
              "encoding": {
                "y": {"field": "lo", "type": "quantitative", "scale": {"domain": [-0.066, 1.064], "nice": false, "zero": false}, "axis": {"orient": "right", "values": [0, 0.2, 0.4, 0.6, 0.8, 1.0], "format": ".1f", "tickSize": 7, "labelPadding": 6, "title": null}},
                "y2": {"field": "hi"},
                "color": {"field": "lo", "type": "quantitative", "scale": {"type": "threshold", "domain": [0.005, 0.075, 0.146, 0.217, 0.287, 0.358, 0.428, 0.499, 0.57, 0.64, 0.711, 0.782, 0.852, 0.923, 0.993], "range": ["#FF0000", "#FF2222", "#FF4444", "#FF6666", "#FF8888", "#FFAAAA", "#FFCCCC", "#FFEEEE", "#F1EEFF", "#D6CCFF", "#BAAAFF", "#9E88FF", "#8366FF", "#6744FF", "#4C22FF", "#3000FF"]}, "legend": null}
              }
            }
          ]
        }
      ]
    },
    {
      "width": 768, "height": 30,
      "data": {"values": [{"t": "H₂S"}]},
      "mark": {"type": "text", "fontSize": 22},
      "encoding": {"text": {"field": "t"}}
    }
  ]
}
